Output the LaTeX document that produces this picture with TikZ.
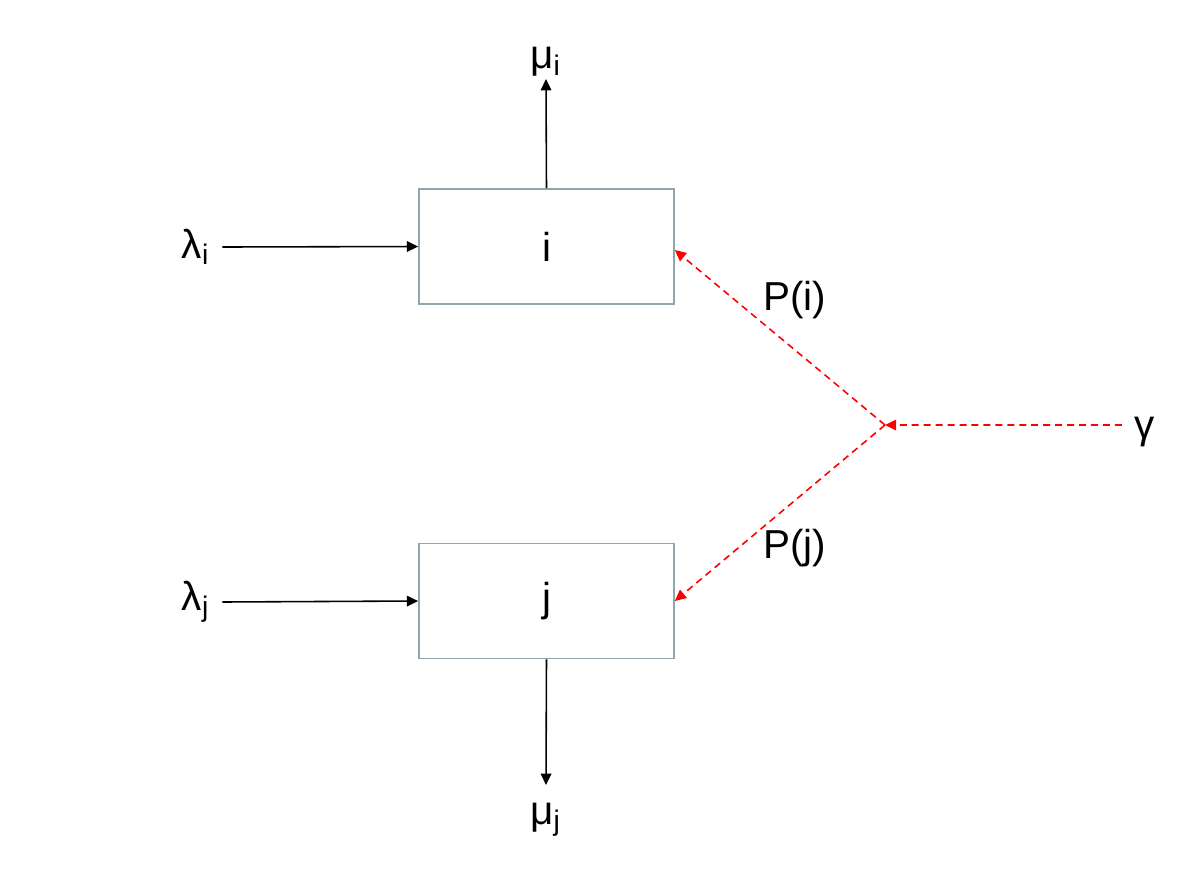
\documentclass[tikz,border=0pt]{standalone}
\usepackage{fontspec}
\setmainfont{Liberation Sans}
\usetikzlibrary{arrows.meta}
\definecolor{boxgray}{RGB}{140,168,170}
\begin{document}
\begin{tikzpicture}[
    >={Triangle[length=3.2pt,width=3pt]}, font=\fontsize{11.5}{13}\selectfont,
    qbox/.style={draw=boxgray, line width=0.5pt, minimum width=2.55cm,
                 minimum height=1.15cm, inner sep=0pt},
    arr/.style={->, line width=0.45pt},
    rarr/.style={->, red, line width=0.45pt, dash pattern=on 2pt off 1.4pt},
    lbl/.style={inner sep=1pt}
  ]
  \useasboundingbox (0,0) rectangle (11.82,-8.88);

  %% queues
  \node[qbox] (qi) at (5.465,-2.465) {i};
  \node[qbox] (qj) at (5.465,-6.01) {j};

  %% arrivals and services
  \node[lbl] (lami) at (1.96,-2.47) {λ\textsubscript{i}};
  \node[lbl] (lamj) at (1.96,-6.02) {λ\textsubscript{j}};
  \node[lbl] (mui) at (5.46,-0.62) {μ\textsubscript{i}};
  \node[lbl] (muj) at (5.46,-8.2) {μ\textsubscript{j}};

  \draw[arr] (lami.east) ++(0.08,0) -- (qi.west);
  \draw[arr] (lamj.east) ++(0.08,0) -- (qj.west);
  \draw[arr] (qi.north) -- ([yshift=0.5pt]mui.south);
  \draw[arr] (qj.south) -- ([yshift=4pt]muj.north);

  %% routing of gamma
  \coordinate (split) at (8.85,-4.25);
  \node[lbl] (gam) at (11.45,-4.32) {γ};
  \node[lbl] (pi) at (7.95,-3.0) {P(i)};
  \node[lbl] (pj) at (7.95,-5.48) {P(j)};

  \draw[rarr] ([xshift=-2.5pt,yshift=2pt]gam.west) -- (split);
  \draw[rarr] (split) -- ([yshift=-1pt]qi.east);
  \draw[rarr] (split) -- (qj.east);

\end{tikzpicture}
\end{document}
